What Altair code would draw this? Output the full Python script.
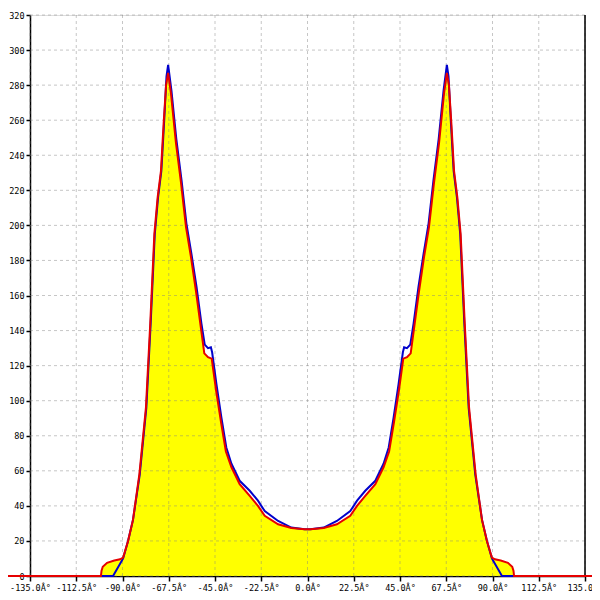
import altair as alt
import pandas as pd

# Blue (raw) curve
blue_x = [-100.5, -94.6, -89.7, -87.3, -84.9, -81.6, -78.4, -76.3, -74.3, -72.7, -71.1, -69.8, -68.6, -67.8,
          -66.2, -63.8, -61.3, -58.9, -56.5, -54.0, -51.6, -50.0, -48.4, -47.0, -46.4, -44.3, -41.9, -39.5,
          -37.0, -33.0, -28.1, -24.1, -20.8, -14.3, -7.9, -1.4, 0.0,
          1.4, 7.9, 14.3, 20.8, 24.1, 28.1, 33.0, 37.0, 39.5, 41.9, 44.3, 46.4, 47.0, 48.4, 50.0, 51.6,
          54.0, 56.5, 58.9, 61.3, 63.8, 66.2, 67.8, 68.6, 69.8, 71.1, 72.7, 74.3, 76.3, 78.4, 81.6, 84.9,
          87.3, 89.7, 94.6, 100.5]
blue_y = [0, 0, 10, 20, 32, 58, 96, 144, 195, 216, 231, 258, 285, 291.5,
          277, 249, 226, 201, 184, 165, 144, 132, 130, 130.5, 127.6, 109.5, 90.5, 73.3,
          64, 54.3, 48.6, 43, 37, 31.4, 27.6, 26.7, 26.7,
          26.7, 27.6, 31.4, 37, 43, 48.6, 54.3, 64, 73.3, 90.5, 109.5, 127.6, 130.5, 130, 132, 144,
          165, 184, 201, 226, 249, 277, 291.5, 285, 258, 231, 216, 195, 144, 96, 58, 32,
          20, 10, 0, 0]

# Red (smoothed) curve, with baseline extending across the chart
red_x = [-150.0, -100.5, -100.2, -99.6, -97.5, -94.0, -91.2, -89.7, -87.3, -84.9, -81.8, -78.6, -76.5, -74.5,
         -72.9, -71.3, -70.0, -68.8, -67.8, -66.4, -64.0, -61.5, -59.1, -56.7, -54.2, -51.8, -50.2, -48.4,
         -46.6, -44.5, -42.1, -39.7, -37.0, -33.0, -28.1, -24.1, -20.8, -14.3, -7.9, -1.4, 0.0,
         1.4, 7.9, 14.3, 20.8, 24.1, 28.1, 33.0, 37.0, 39.7, 42.1, 44.5, 46.6, 48.4, 50.2, 51.8, 54.2,
         56.7, 59.1, 61.5, 64.0, 66.4, 67.8, 68.8, 70.0, 71.3, 72.9, 74.5, 76.5, 78.6, 81.8, 84.9, 87.3,
         89.7, 91.2, 94.0, 97.5, 99.6, 100.2, 100.5, 150.0]
red_y = [0, 0, 3, 5.3, 7.5, 8.8, 9.5, 10.5, 20, 32, 58, 96, 144, 195,
         216, 231, 258, 280, 287, 275, 247, 224, 199, 182, 162, 141, 127, 124.8,
         124, 106, 88, 71, 62, 52.4, 45.7, 40, 34.3, 29.5, 27.4, 26.7, 26.7,
         26.7, 27.4, 29.5, 34.3, 40, 45.7, 52.4, 62, 71, 88, 106, 124, 124.8, 127, 141, 162,
         182, 199, 224, 247, 275, 287, 280, 258, 231, 216, 195, 144, 96, 58, 32, 20,
         10.5, 9.5, 8.8, 7.5, 5.3, 3, 0, 0]

x_ticks = [-135, -112.5, -90, -67.5, -45, -22.5, 0, 22.5, 45, 67.5, 90, 112.5, 135]
y_ticks = [0, 20, 40, 60, 80, 100, 120, 140, 160, 180, 200, 220, 240, 260, 280, 300, 320]

blue_df = pd.DataFrame({"x": blue_x, "y": blue_y})
red_df = pd.DataFrame({"x": red_x, "y": red_y})
xg_df = pd.DataFrame({"x": x_ticks})
yg_df = pd.DataFrame({"y": y_ticks})

xs = alt.Scale(domain=[-135, 135], nice=False, zero=False)
ys = alt.Scale(domain=[0, 320], nice=False)

FONT = "DejaVu Sans Mono"

xaxis = alt.Axis(values=x_ticks, grid=False, title=None, domainColor="black", domainWidth=1.5,
                 tickColor="black", tickSize=5, tickWidth=1.5, labelFont=FONT, labelFontSize=8.5,
                 labelColor="black", labelPadding=2, labelFlush=False, labelOverlap=False,
                 labelExpr="(datum.value < 0 ? '-' : '') + format(abs(datum.value), '.1f') + 'Â°'")
yaxis = alt.Axis(values=y_ticks, grid=False, title=None, domainColor="black", domainWidth=1.5,
                 tickColor="black", tickSize=4, tickWidth=1.5, labelFont=FONT, labelFontSize=8.5,
                 labelColor="black", labelPadding=2, format="d", labelFlush=False, labelOverlap=False)

X = alt.X("x:Q", scale=xs, axis=xaxis)
Y = alt.Y("y:Q", scale=ys, axis=yaxis)

area = alt.Chart(red_df[(red_df.x > -101) & (red_df.x < 101)]).mark_area(color="#ffff00", opacity=1).encode(
    x=X, y=Y,
)

xgrid = alt.Chart(xg_df).mark_rule(color="#808080", opacity=0.45, strokeDash=[3, 3], strokeWidth=1).encode(x=X)
ygrid = alt.Chart(yg_df).mark_rule(color="#808080", opacity=0.45, strokeDash=[3, 3], strokeWidth=1).encode(y=Y)
border = alt.Chart(pd.DataFrame({"x": [x_ticks[-1]]})).mark_rule(color="black", strokeWidth=1.5).encode(x=X)

blue = alt.Chart(blue_df).mark_line(color="#0000cc", strokeWidth=2, clip=False).encode(x=X, y=Y)
red = alt.Chart(red_df).mark_line(color="#e60000", strokeWidth=2, clip=False).encode(x=X, y=Y)

chart = alt.layer(area, xgrid, ygrid, border, blue, red).properties(
    width=555, height=561,
    autosize=alt.AutoSizeParams(type="none"),
    padding={"left": 22, "top": 7, "right": 7, "bottom": 16},
).configure_view(stroke=None).configure(background="white")

chart.save("out.html", embed_options={"renderer": "svg", "actions": False})
